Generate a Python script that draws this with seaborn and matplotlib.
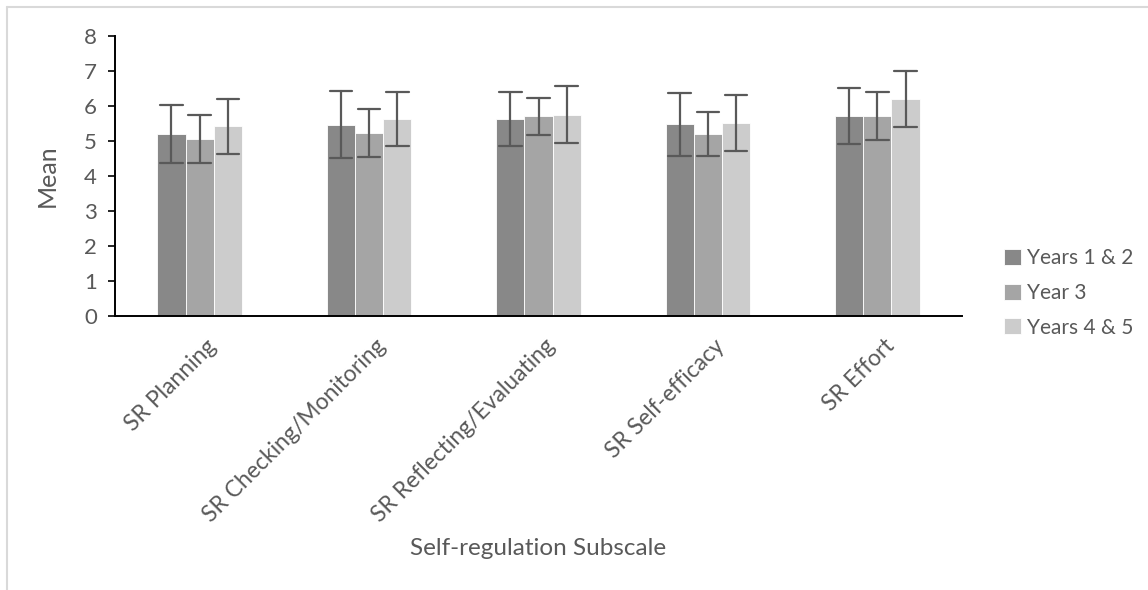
import matplotlib
matplotlib.use("Agg")
import matplotlib.pyplot as plt
import matplotlib.transforms as mtransforms
from matplotlib.lines import Line2D
import seaborn as sns
import pandas as pd

# values
subscales = ["SR Planning", "SR Checking/Monitoring", "SR Reflecting/Evaluating",
             "SR Self-efficacy", "SR Effort"]
groups = ["Years 1 & 2", "Year 3", "Years 4 & 5"]
means = {
    "Years 1 & 2": [5.20, 5.47, 5.63, 5.48, 5.71],
    "Year 3":      [5.06, 5.22, 5.71, 5.20, 5.72],
    "Years 4 & 5": [5.42, 5.63, 5.75, 5.51, 6.19],
}
sds = {
    "Years 1 & 2": [0.83, 0.96, 0.77, 0.90, 0.80],
    "Year 3":      [0.69, 0.69, 0.53, 0.63, 0.68],
    "Years 4 & 5": [0.78, 0.77, 0.81, 0.80, 0.80],
}
bar_colors = ["#888888", "#a5a5a5", "#cccccc"]
text_color = "#595959"

# two rows per bar (mean - sd, mean + sd) -> mean is the bar, min/max the error bar
rows = []
for g in groups:
    for s, m, e in zip(subscales, means[g], sds[g]):
        rows.append({"subscale": s, "group": g, "value": m - e})
        rows.append({"subscale": s, "group": g, "value": m + e})
df = pd.DataFrame(rows)

sns.set_style("white")
plt.rcParams["font.family"] = ["Lato", "DejaVu Sans"]

fig = plt.figure(figsize=(11.48, 5.90), dpi=100)
ax = fig.add_axes([115 / 1148, 1 - 316 / 590, (962 - 115) / 1148, (316 - 36) / 590])

sns.barplot(data=df, x="subscale", y="value", hue="group", order=subscales, hue_order=groups,
            palette=bar_colors, estimator="mean", errorbar=lambda v: (v.min(), v.max()),
            width=0.5, capsize=0.4, edgecolor="white", linewidth=0.6,
            err_kws={"color": "#595959", "linewidth": 1.6}, ax=ax)

ax.set_ylim(0, 8)
ax.set_yticks(range(0, 9))
ax.set_xlim(-0.5, len(subscales) - 0.5)

for side in ["top", "right"]:
    ax.spines[side].set_visible(False)
for side in ["left", "bottom"]:
    ax.spines[side].set_color("black")
    ax.spines[side].set_linewidth(1.4)

ax.tick_params(axis="y", length=5, width=1.2, color="black", pad=8,
               labelsize=16, labelcolor=text_color, left=True)
ax.tick_params(axis="x", length=0, pad=14, labelsize=16.5, labelcolor=text_color)
shift = mtransforms.ScaledTranslation(6 / 100, 0, fig.dpi_scale_trans)
for lab in ax.get_xticklabels():
    lab.set_rotation(45)
    lab.set_ha("right")
    lab.set_va("top")
    lab.set_rotation_mode("anchor")
    lab.set_transform(lab.get_transform() + shift)

ax.set_ylabel("Mean", fontsize=18, color=text_color)
ax.yaxis.set_label_coords(-0.067, 0.5)
ax.set_xlabel("Self-regulation Subscale", fontsize=17.5, color=text_color)
ax.xaxis.set_label_coords(0.5, -0.829)
ax.xaxis.label.set_va("center")

handles, labels = ax.get_legend_handles_labels()
ax.legend(handles, labels, loc="center left", bbox_to_anchor=(1004 / 1148, 1 - 293 / 590),
          bbox_transform=fig.transFigure, frameon=False, fontsize=15, labelcolor=text_color,
          handlelength=0.8, handleheight=0.8, handletextpad=0.3, labelspacing=0.7,
          borderpad=0, borderaxespad=0)

# light chart-area border (top and left edges visible in the reference)
fig.add_artist(Line2D([7 / 1148, 1], [1 - 7 / 590, 1 - 7 / 590], color="#d9d9d9", lw=1.5,
                      transform=fig.transFigure))
fig.add_artist(Line2D([7 / 1148, 7 / 1148], [0, 1 - 7 / 590], color="#d9d9d9", lw=1.5,
                      transform=fig.transFigure))

fig.savefig("out.png", dpi=100)
